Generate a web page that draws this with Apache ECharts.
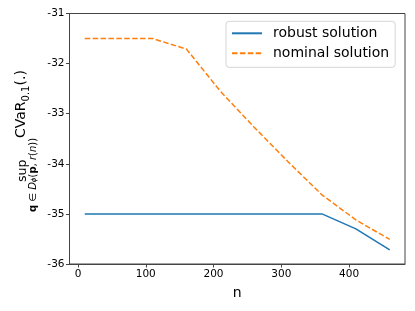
<!DOCTYPE html>
<html>
<head>
<meta charset="utf-8">
<script src="https://cdn.jsdelivr.net/npm/echarts@6/dist/echarts.min.js"></script>
<style>
html,body{margin:0;padding:0;background:#fff;}
#c{width:415px;height:311px;}
</style>
</head>
<body>
<div id="c"></div>
<script>
const nValues = [10, 60, 110, 160, 210, 260, 310, 360, 410, 460];
const robust = [-35, -35, -35, -35, -35, -35, -35, -35, -35.3, -35.72];
const nominal = [-31.5, -31.5, -31.5, -31.71, -32.55, -33.27, -33.96, -34.62, -35.12, -35.51];
const xTicks = [0, 100, 200, 300, 400];
const seriesNames = ['robust solution', 'nominal solution'];

const FONT = 'DejaVu Sans';
const chart = echarts.init(document.getElementById('c'), null, {renderer: 'canvas'});

const axisCommon = {
  axisLine: {show: true, onZero: false, lineStyle: {color: '#444', width: 1}},
  axisTick: {show: true, inside: false, length: 3.5, lineStyle: {color: '#444', width: 1}},
  axisLabel: {color: '#000', fontFamily: FONT, fontSize: 10.5, margin: 5},
  splitLine: {show: false}
};

chart.setOption({
  animation: false,
  backgroundColor: '#fff',
  grid: {left: 69.5, right: 10, top: 13.5, bottom: 47, show: true, borderColor: '#444', borderWidth: 1, containLabel: false, outerBoundsMode: 'none'},
  xAxis: Object.assign({}, axisCommon, {
    type: 'value', min: -12.5, max: 482.5,
    axisTick: Object.assign({}, axisCommon.axisTick, {customValues: xTicks}),
    axisLabel: Object.assign({}, axisCommon.axisLabel, {customValues: xTicks, margin: 4.5}),
    name: 'n', nameLocation: 'middle', nameGap: 22,
    nameTextStyle: {color: '#000', fontFamily: FONT, fontSize: 14}
  }),
  yAxis: Object.assign({}, axisCommon, {
    type: 'value', min: -36, max: -31, interval: 1
  }),
  legend: {
    data: seriesNames,
    orient: 'vertical',
    left: 226, top: 21.3,
    itemWidth: 30, itemHeight: 14, itemGap: 6,
    padding: [5, 6, 7, 5],
    borderColor: '#d5d5d5', borderWidth: 1, borderRadius: 3,
    backgroundColor: 'rgba(255,255,255,0.8)',
    itemStyle: {opacity: 0},
    textStyle: {color: '#000', fontFamily: FONT, fontSize: 14, padding: [0, 0, 0, 6]}
  },
  graphic: [
    {
      type: 'text', x: 21, y: 138, rotation: Math.PI / 2,
      style: {
        text: '{a|CVaR}{s|0.1}{a|(.)}',
        align: 'left', verticalAlign: 'middle', fill: '#000',
        rich: {
          a: {fontFamily: FONT, fontSize: 14, fill: '#000'},
          s: {fontFamily: FONT, fontSize: 10, lineHeight: 20, fill: '#000', verticalAlign: 'bottom'}
        }
      }
    },
    {
      type: 'text', x: 22.5, y: 182, rotation: Math.PI / 2,
      style: {text: 'sup', font: '12.5px "DejaVu Sans"', align: 'left', verticalAlign: 'middle', fill: '#000'}
    },
    {
      type: 'text', x: 33, y: 175, rotation: Math.PI / 2,
      style: {
        text: '{b|q}{n| ∈ }{i|D}{ss|ϕ}{n|(}{b|p}{n|, }{i|r}{n|(}{i|n}{n|))}',
        align: 'center', verticalAlign: 'middle', fill: '#000',
        rich: {
          b: {fontFamily: FONT, fontSize: 10, fontWeight: 'bold', fill: '#000'},
          n: {fontFamily: FONT, fontSize: 10, fill: '#000'},
          i: {fontFamily: FONT, fontSize: 10, fontStyle: 'italic', fill: '#000'},
          ss: {fontFamily: FONT, fontSize: 7, fontStyle: 'italic', fill: '#000', verticalAlign: 'bottom'}
        }
      }
    }
  ],
  series: [
    {
      name: seriesNames[0], type: 'line', symbol: 'none',
      data: nValues.map((n, i) => [n, robust[i]]),
      lineStyle: {color: '#1f77b4', width: 1.5},
      itemStyle: {color: '#1f77b4'}
    },
    {
      name: seriesNames[1], type: 'line', symbol: 'none',
      data: nValues.map((n, i) => [n, nominal[i]]),
      lineStyle: {color: '#ff7f0e', width: 1.5, type: [5.5, 2.4]},
      itemStyle: {color: '#ff7f0e'}
    }
  ]
});
</script>
</body>
</html>
